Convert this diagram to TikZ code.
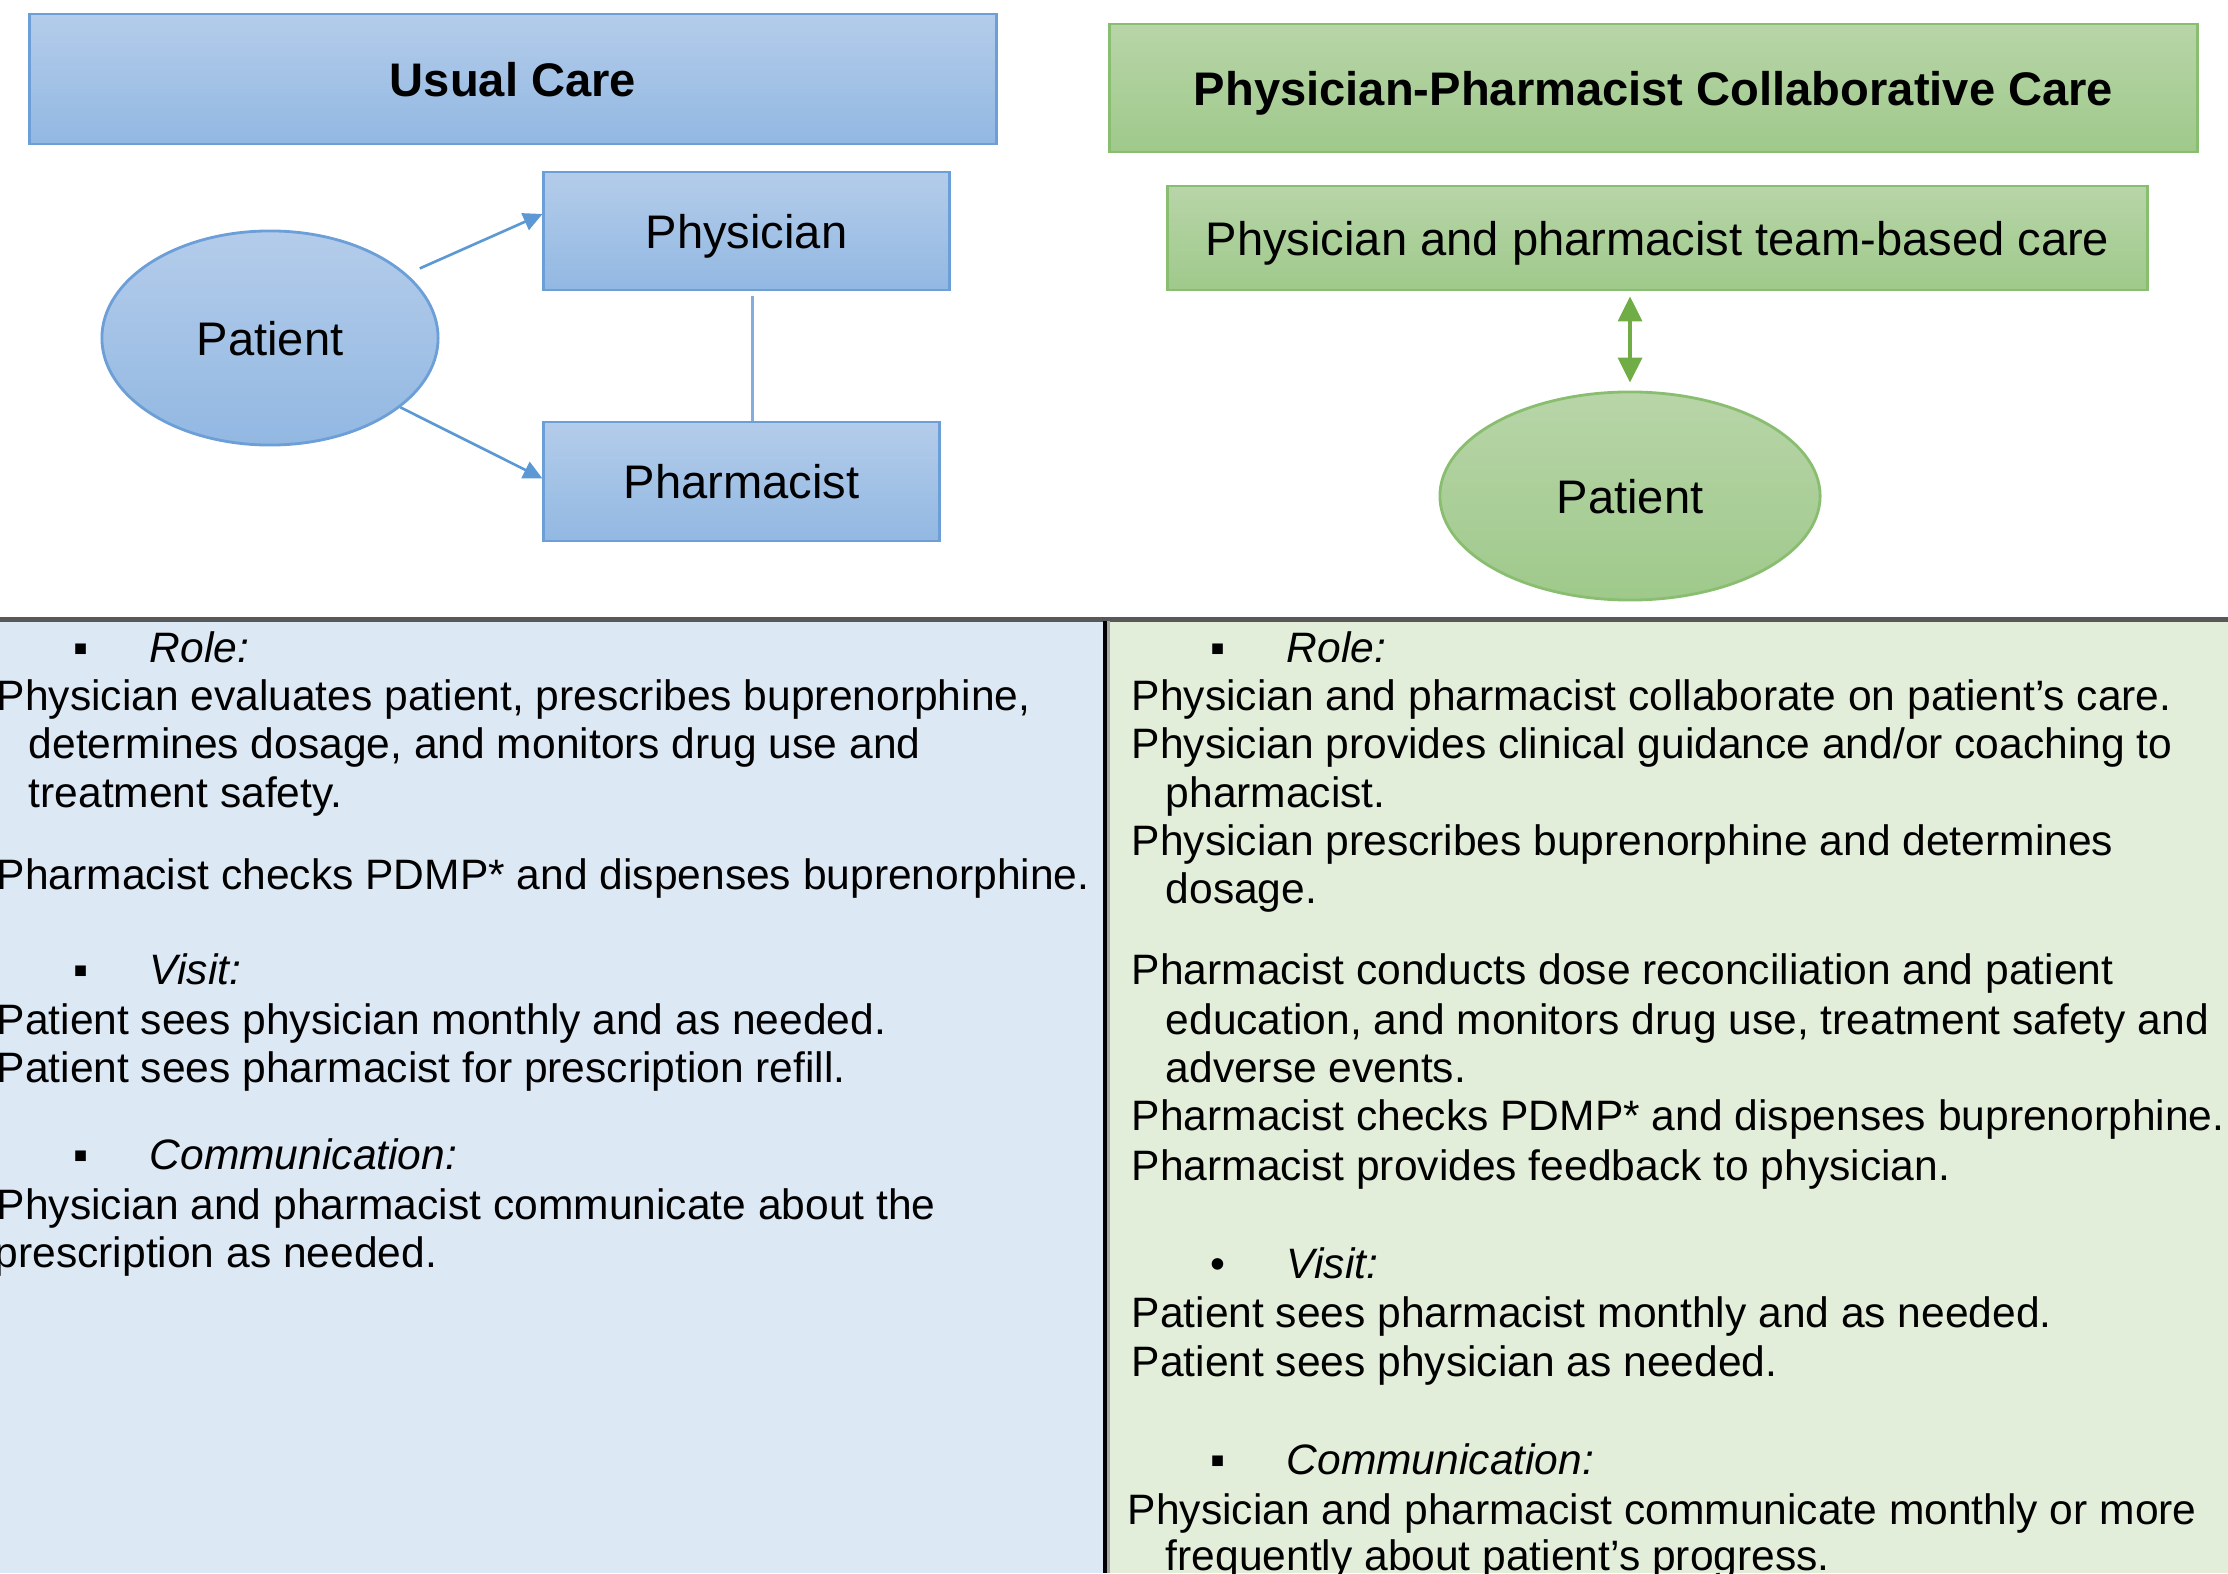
\documentclass[tikz,border=0pt]{standalone}
\usepackage{fontspec}
\setmainfont{Liberation Sans}
\usetikzlibrary{arrows.meta,shapes.geometric,backgrounds}

\definecolor{ucTop}{RGB}{180,204,234}
\definecolor{ucBot}{RGB}{146,184,226}
\definecolor{ucLine}{RGB}{108,158,215}
\definecolor{ucArrow}{RGB}{91,152,212}
\definecolor{ucPanel}{RGB}{221,232,245}
\definecolor{ccTop}{RGB}{184,213,168}
\definecolor{ccBot}{RGB}{159,201,139}
\definecolor{ccLine}{RGB}{137,190,112}
\definecolor{ccArrow}{RGB}{112,173,71}
\definecolor{ccPanel}{RGB}{226,238,218}
\definecolor{divider}{RGB}{88,88,88}

\newcommand{\hdfont}{\fontsize{13.4}{16}\selectfont}
\newcommand{\txfont}{\fontsize{12.1}{14}\selectfont}

\begin{document}
\begin{tikzpicture}[x=0.01cm, y=-0.01cm,
  ucshape/.style={draw=ucLine, line width=0.8pt, top color=ucTop, bottom color=ucBot,
    inner sep=0pt, font=\hdfont, text height=9.7pt, text depth=0pt},
  ccshape/.style={draw=ccLine, line width=0.8pt, top color=ccTop, bottom color=ccBot,
    inner sep=0pt, font=\hdfont, text height=9.7pt, text depth=0pt},
  txt/.style={anchor=base west, inner sep=0pt, font=\txfont, yshift=-0.03cm},
  head/.style={txt, font=\txfont\itshape},
  bul/.style={anchor=base, inner sep=0pt, font=\txfont, yshift=-0.03cm}]
  \useasboundingbox (0,0) rectangle (2228,1573);
  \clip (0,0) rectangle (2228,1573);

  % Lower panels
  \fill[ucPanel] (0,619) rectangle (1105,1573);
  \fill[ccPanel] (1105,619) rectangle (2228,1573);
  \draw[line width=1.45pt, divider] (0,619.5) -- (2228,619.5);
  \draw[line width=0.8pt, black!35] (1108.5,621) -- (1108.5,1573);
  \draw[line width=1.1pt, black] (1105,621) -- (1105,1573);

  % Usual care
  \node[ucshape, minimum width=9.66cm, minimum height=1.30cm] (uc) at (513,79) {\textbf{Usual Care}};
  \node[ucshape, minimum width=4.05cm, minimum height=1.18cm] (phys) at (746.5,231) {Physician};
  \node[ucshape, minimum width=3.95cm, minimum height=1.19cm] (pharm) at (741.5,481.5) {Pharmacist};
  \node[ucshape, ellipse, minimum width=3.36cm, minimum height=2.14cm] (patL) at (270,338) {Patient};

  \draw[ucArrow, line width=0.75pt, -{Triangle[length=0.19cm,width=0.18cm]}, shorten <=0.14cm]
    (patL.25) -- ([yshift=0.17cm]phys.west);
  \draw[ucArrow, line width=0.75pt, -{Triangle[length=0.19cm,width=0.18cm]}]
    (patL.-28) -- ([yshift=0.03cm]pharm.west);
  \begin{scope}[on background layer]
    \draw[ucLine!85, line width=0.85pt] ([xshift=0.06cm,yshift=-0.05cm]phys.south)
      -- ([xshift=0.06cm,yshift=-0.08cm]phys.south |- pharm.north);
  \end{scope}

  % Collaborative care
  \node[ccshape, minimum width=10.87cm, minimum height=1.28cm] (cc) at (1653.5,88) {\textbf{Physician-Pharmacist Collaborative Care}};
  \node[ccshape, minimum width=9.79cm, minimum height=1.04cm] (team) at (1657.5,238) {Physician and pharmacist team-based care};
  \node[ccshape, ellipse, minimum width=3.80cm, minimum height=2.08cm] (patR) at (1630,496) {Patient};

  \draw[ccArrow, line width=1pt, {Triangle[length=0.25cm,width=0.24cm]}-{Triangle[length=0.25cm,width=0.24cm]},
    shorten <=0.05cm, shorten >=0.08cm]
    (patR.north |- team.south) -- (patR.north);

  % Usual care text
  \node[bul] (lb1) at (81,659) {▪};
  \node[head] (lh1) at (149,659) {Role:};
  \node[txt] (l1) at (-4,707) {Physician evaluates patient, prescribes buprenorphine,};
  \node[txt] (l2) at (28,755) {determines dosage, and monitors drug use and};
  \node[txt] (l3) at (28,804) {treatment safety.};
  \node[txt] (l4) at (-4,886) {Pharmacist checks PDMP* and dispenses buprenorphine.};
  \node[bul] (lb2) at (81,981) {▪};
  \node[head] (lh2) at (149,981) {Visit:};
  \node[txt] (l5) at (-4,1031) {Patient sees physician monthly and as needed.};
  \node[txt] (l6) at (-4,1079) {Patient sees pharmacist for prescription refill.};
  \node[bul] (lb3) at (81,1166) {▪};
  \node[head] (lh3) at (149,1166) {Communication:};
  \node[txt] (l7) at (-4,1216) {Physician and pharmacist communicate about the};
  \node[txt] (l8) at (-6,1264) {prescription as needed.};

  % Collaborative care text
  \node[bul] (rb1) at (1218,659) {▪};
  \node[head] (rh1) at (1286,659) {Role:};
  \node[txt] (r1) at (1131,707) {Physician and pharmacist collaborate on patient's care.};
  \node[txt] (r2) at (1131,755) {Physician provides clinical guidance and/or coaching to};
  \node[txt] (r3) at (1165,804) {pharmacist.};
  \node[txt] (r4) at (1131,852) {Physician prescribes buprenorphine and determines};
  \node[txt] (r5) at (1165,900) {dosage.};
  \node[txt] (r6) at (1131,981) {Pharmacist conducts dose reconciliation and patient};
  \node[txt] (r7) at (1165,1031) {education, and monitors drug use, treatment safety and};
  \node[txt] (r8) at (1165,1079) {adverse events.};
  \node[txt] (r9) at (1131,1127) {Pharmacist checks PDMP* and dispenses buprenorphine.};
  \node[txt] (r10) at (1131,1177) {Pharmacist provides feedback to physician.};
  \node[bul] (rb2) at (1218,1275) {•};
  \node[head] (rh2) at (1286,1275) {Visit:};
  \node[txt] (r11) at (1131,1324) {Patient sees pharmacist monthly and as needed.};
  \node[txt] (r12) at (1131,1373) {Patient sees physician as needed.};
  \node[bul] (rb3) at (1218,1471) {▪};
  \node[head] (rh3) at (1286,1471) {Communication:};
  \node[txt] (r13) at (1127,1521) {Physician and pharmacist communicate monthly or more};
  \node[txt] (r14) at (1165,1567) {frequently about patient's progress.};
\end{tikzpicture}
\end{document}
